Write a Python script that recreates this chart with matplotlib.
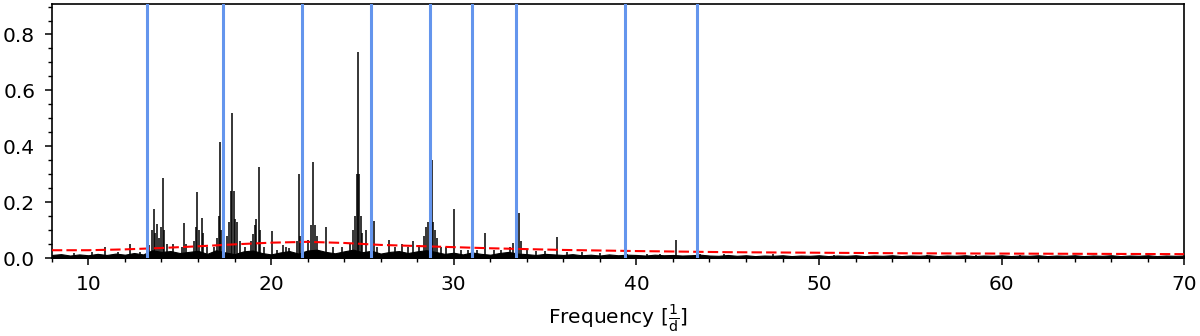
import numpy as np
import matplotlib
matplotlib.use("Agg")
import matplotlib.pyplot as plt
from matplotlib.ticker import MultipleLocator

# ---- data ----
# periodogram peaks (frequency [1/d], amplitude)
peak_freq = [9.2, 10.2, 10.93, 11.6, 12.26, 12.8,
             13.3, 13.5, 13.58, 13.66, 13.74, 13.85, 13.95, 14.07, 14.15, 14.3, 14.66,
             15.1, 15.22, 15.35, 15.8, 15.9, 15.96, 16.05, 16.22, 16.3, 16.5, 16.9,
             17.05, 17.15, 17.21, 17.28, 17.6, 17.72, 17.8, 17.88, 17.95, 18.02, 18.12,
             18.3, 18.6, 18.9, 19.03, 19.12, 19.2, 19.32, 19.4, 19.6, 20.07, 20.3,
             20.67, 20.8, 21.0, 21.4, 21.53, 21.6, 22.0, 22.2, 22.30, 22.38, 22.53,
             22.99, 23.4, 23.9, 24.3, 24.5, 24.6, 24.7, 24.76, 24.82, 24.9, 25.0,
             25.20, 25.62, 25.8, 26.46, 26.8, 27.15, 27.5, 27.75, 28.1, 28.4, 28.5,
             28.61, 28.7, 28.79, 28.88, 28.98, 29.1, 29.3, 29.6, 30.01, 30.4, 30.8,
             31.3, 31.71, 32.2, 32.6, 33.1, 33.23, 33.45, 33.59, 33.68, 34.0, 34.5,
             35.0, 35.63, 36.2, 37.0, 38.0, 39.5, 40.6, 41.3, 42.16, 43.5, 44.8,
             47.5, 50.8, 55.9, 58.6, 61.0]
peak_amp = [0.018, 0.020, 0.038, 0.020, 0.049, 0.022,
            0.045, 0.100, 0.174, 0.090, 0.121, 0.070, 0.110, 0.285, 0.100, 0.050, 0.050,
            0.040, 0.127, 0.050, 0.060, 0.110, 0.235, 0.100, 0.145, 0.090, 0.040, 0.040,
            0.070, 0.150, 0.415, 0.100, 0.080, 0.130, 0.240, 0.519, 0.240, 0.140, 0.130,
            0.060, 0.040, 0.060, 0.085, 0.120, 0.140, 0.326, 0.100, 0.040, 0.098, 0.030,
            0.045, 0.040, 0.035, 0.060, 0.300, 0.080, 0.065, 0.120, 0.343, 0.120, 0.080,
            0.110, 0.040, 0.040, 0.050, 0.100, 0.150, 0.300, 0.737, 0.300, 0.150, 0.090,
            0.100, 0.133, 0.040, 0.065, 0.040, 0.050, 0.040, 0.060, 0.045, 0.080, 0.110,
            0.130, 0.120, 0.352, 0.130, 0.100, 0.070, 0.040, 0.040, 0.177, 0.030, 0.030,
            0.030, 0.088, 0.030, 0.030, 0.040, 0.055, 0.070, 0.162, 0.060, 0.030, 0.025,
            0.025, 0.075, 0.020, 0.020, 0.018, 0.015, 0.015, 0.015, 0.064, 0.015, 0.013,
            0.014, 0.012, 0.012, 0.011, 0.011]

# noise floor of the periodogram, sampled every 0.5 1/d from 8 to 70
floor_freq = [8.0 + 0.5 * i for i in range(125)]
floor_amp = [0.011, 0.014, 0.009, 0.013, 0.010, 0.015, 0.011, 0.016, 0.012, 0.018, 0.013,
             0.028, 0.022, 0.025, 0.018, 0.022, 0.026, 0.015, 0.028, 0.020, 0.014, 0.024,
             0.027, 0.018, 0.013,
             0.020, 0.025, 0.016, 0.027, 0.030, 0.022, 0.017, 0.024, 0.030, 0.021, 0.026,
             0.016, 0.022, 0.025,
             0.018, 0.024, 0.028, 0.022, 0.015, 0.019, 0.013, 0.020, 0.015, 0.012, 0.018,
             0.022, 0.016, 0.014, 0.011, 0.015,
             0.013, 0.011, 0.014, 0.010, 0.012, 0.009, 0.013, 0.010, 0.012, 0.011, 0.009,
             0.012, 0.010, 0.011, 0.009, 0.010, 0.012, 0.009, 0.008, 0.011,
             0.008, 0.010, 0.007, 0.009, 0.008, 0.010, 0.007, 0.009, 0.008, 0.010,
             0.007, 0.009, 0.008, 0.010, 0.007, 0.009, 0.008, 0.010, 0.007, 0.009,
             0.008, 0.010, 0.007, 0.009, 0.008, 0.010, 0.007, 0.009, 0.008, 0.010,
             0.007, 0.009, 0.008, 0.010, 0.007, 0.009, 0.008, 0.010, 0.007, 0.009,
             0.008, 0.010, 0.007, 0.009, 0.008, 0.010, 0.007, 0.009, 0.008, 0.009]

# significance / noise level (red dashed)
noise_freq = [8, 10, 12, 14, 16, 18, 20, 22, 24, 26, 28, 30, 32, 34, 36, 38, 40,
              45, 50, 55, 60, 65, 70]
noise_amp = [0.028, 0.028, 0.031, 0.036, 0.042, 0.049, 0.055, 0.058, 0.054, 0.047,
             0.043, 0.039, 0.035, 0.032, 0.029, 0.027, 0.025, 0.021, 0.019, 0.017,
             0.016, 0.015, 0.014]

# marked frequencies (blue vertical lines)
mark_freq = [13.19, 17.35, 21.68, 25.45, 28.70, 31.02, 33.39, 39.37, 43.30]

# ---- plot ----
fig = plt.figure(figsize=(12, 3.36), dpi=100)
ax = fig.add_axes([0.0432, 0.232, 0.9438, 0.756])

ax.fill_between(floor_freq, 0, floor_amp, color="black", linewidth=0.8, zorder=2)
ax.vlines(peak_freq, 0, peak_amp, color="black", linewidth=1.1, zorder=2)
ax.plot(noise_freq, noise_amp, color="red", linestyle=(0, (5, 2)), linewidth=1.5, zorder=3)
for f in mark_freq:
    ax.axvline(f, color="cornflowerblue", linewidth=2.2, zorder=4)

ax.set_xlim(8, 70)
ax.set_ylim(0, 0.909)
ax.xaxis.set_major_locator(MultipleLocator(10))
ax.xaxis.set_minor_locator(MultipleLocator(2))
ax.yaxis.set_major_locator(MultipleLocator(0.2))
ax.yaxis.set_minor_locator(MultipleLocator(0.05))
ax.tick_params(which="major", length=5, width=1.1, labelsize=14.5, pad=7)
ax.tick_params(which="minor", length=3, width=1.0)
for s in ax.spines.values():
    s.set_linewidth(1.2)
ax.set_xlabel(r"Frequency [$\frac{1}{\mathrm{d}}$]", fontsize=14.5, labelpad=7)

fig.savefig("out.png", dpi=100)
